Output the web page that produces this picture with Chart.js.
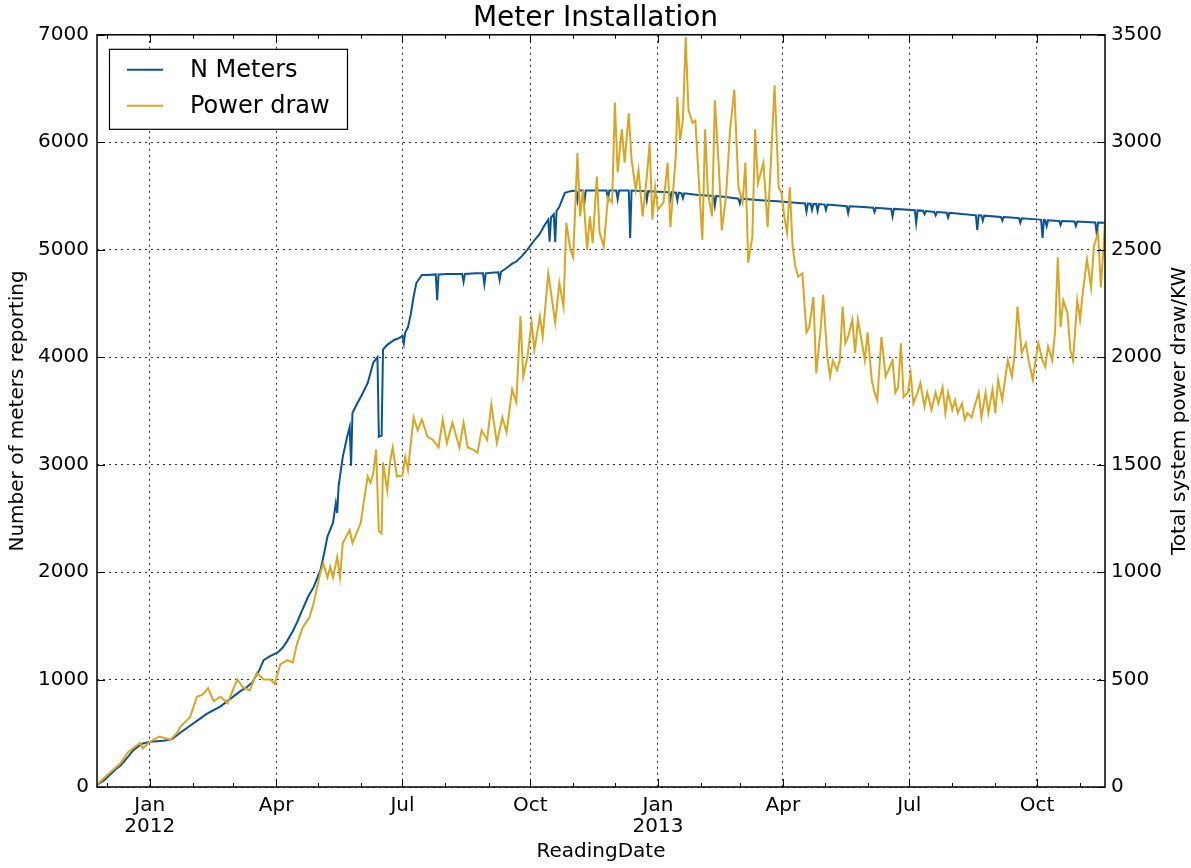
<!DOCTYPE html>
<html>
<head>
<meta charset="utf-8">
<title>Meter Installation</title>
<script src="https://cdn.jsdelivr.net/npm/chart.js@4.4.1/dist/chart.umd.min.js"></script>
<style>
  html, body { margin: 0; padding: 0; background: #fff; }
  canvas { display: block; }
</style>
</head>
<body>
<canvas id="chart" width="1191" height="868"></canvas>
<script>
// x values are days counted from 2012-01-01
const xMin = -38, xMax = 688;

// quarter ticks (labelled) and monthly minor ticks
const tickDays   = [0, 91, 182, 274, 366, 456, 547, 639];
const tickLabels = ['Jan\n2012', 'Apr', 'Jul', 'Oct', 'Jan\n2013', 'Apr', 'Jul', 'Oct'];
const minorDays  = [-31, 31, 60, 121, 152, 213, 244, 305, 335, 397, 425, 486, 517, 578, 609, 670];

// N Meters (left axis)
const meterDays = [
  -38, -33, -29, -25, -21, -16, -12, -8, -5, 0,
  5, 10, 16, 22, 29, 35, 41, 46, 51, 58,
  65, 70, 74, 79, 82, 87, 92, 96, 99, 103,
  106, 110, 114, 118, 123, 126, 128, 132, 134, 135,
  136, 139, 142, 144, 145, 146, 149, 152, 157, 161,
  164, 165, 167, 168, 171, 176, 180, 182, 183, 184,
  186, 188, 190, 192, 196, 200, 206, 207, 208, 214,
  222, 225, 226, 227, 235, 240, 241, 242, 246, 251,
  252, 253, 257, 261, 264, 268, 272, 276, 281, 284,
  287, 288, 289, 291, 292, 293, 295, 299, 303, 307,
  308, 309, 312, 313, 314, 320, 329, 330, 331, 336,
  337, 338, 345, 346, 347, 357, 358, 359, 366, 374,
  375, 376, 379, 380, 381, 383, 384, 385, 395, 406,
  407, 408, 415, 424, 425, 426, 440, 452, 463, 472,
  473, 474, 476, 477, 478, 480, 481, 482, 486, 487,
  488, 502, 503, 504, 511, 521, 522, 523, 534, 535,
  536, 549, 551, 552, 553, 557, 558, 559, 565, 566,
  567, 574, 575, 576, 585, 595, 596, 597, 599, 600,
  601, 613, 614, 615, 620, 626, 627, 628, 641, 642,
  643, 644, 645, 646, 647, 655, 656, 657, 666, 667,
  668, 681, 682, 683, 688
];
const meterVals = [
  20, 60, 110, 160, 200, 275, 340, 380, 405, 420,
  425, 430, 445, 505, 570, 625, 680, 715, 750, 820,
  890, 930, 975, 1090, 1180, 1220, 1250, 1300, 1360, 1450,
  1530, 1650, 1770, 1860, 2020, 2200, 2330, 2460, 2640, 2550,
  2800, 3070, 3250, 3350, 2990, 3480, 3560, 3630, 3760, 3950,
  4000, 3260, 3270, 4070, 4115, 4160, 4180, 4200, 4130, 4230,
  4280, 4400, 4560, 4690, 4765, 4765, 4770, 4530, 4770, 4775,
  4775, 4775, 4700, 4775, 4780, 4780, 4680, 4780, 4785, 4790,
  4720, 4795, 4830, 4870, 4890, 4940, 5000, 5070, 5150, 5220,
  5280, 5075, 5300, 5330, 5070, 5360, 5400, 5530, 5545, 5550,
  5460, 5550, 5550, 5430, 5550, 5550, 5550, 5470, 5550, 5550,
  5470, 5550, 5550, 5110, 5550, 5545, 5460, 5545, 5540, 5535,
  5470, 5535, 5530, 5460, 5530, 5525, 5480, 5525, 5510, 5500,
  5410, 5500, 5490, 5475, 5430, 5475, 5460, 5450, 5440, 5430,
  5355, 5430, 5428, 5370, 5425, 5425, 5360, 5425, 5420, 5370,
  5420, 5405, 5340, 5405, 5400, 5390, 5350, 5390, 5380, 5310,
  5380, 5370, 5368, 5250, 5366, 5362, 5330, 5360, 5352, 5320,
  5350, 5345, 5300, 5344, 5333, 5320, 5185, 5320, 5318, 5270,
  5317, 5305, 5270, 5304, 5300, 5294, 5250, 5293, 5280, 5278,
  5110, 5276, 5275, 5220, 5274, 5268, 5230, 5267, 5262, 5220,
  5262, 5253, 5155, 5253, 5250
];

// Power draw in KW (right axis)
const powerDays = [
  -38, -29, -21, -16, -12, -7, -5, 0, 7, 15,
  20, 22, 29, 34, 38, 42, 46, 51, 56, 63,
  67, 72, 77, 82, 87, 90, 94, 99, 103, 106,
  110, 115, 118, 120, 123, 125, 128, 130, 132, 135,
  137, 139, 144, 146, 152, 154, 157, 159, 161, 163,
  165, 167, 168, 171, 173, 175, 178, 182, 184, 186,
  190, 193, 196, 200, 204, 208, 211, 214, 218, 223,
  226, 229, 233, 236, 239, 243, 246, 250, 254, 257,
  261, 264, 267, 269, 272, 275, 277, 281, 283, 287,
  290, 292, 295, 298, 300, 303, 305, 308, 310, 312,
  315, 317, 319, 322, 324, 327, 330, 333, 335, 337,
  340, 342, 345, 347, 350, 352, 355, 358, 360, 362,
  364, 366, 370, 373, 375, 379, 380, 382, 384, 386,
  388, 391, 393, 395, 398, 400, 402, 405, 407, 410,
  412, 415, 418, 421, 424, 427, 429, 431, 434, 436,
  438, 442, 445, 448, 450, 453, 455, 457, 459, 461,
  463, 465, 467, 470, 473, 475, 478, 480, 483, 485,
  488, 490, 492, 495, 497, 499, 501, 503, 506, 508,
  510, 513, 515, 517, 520, 522, 524, 527, 530, 532,
  535, 537, 539, 541, 543, 546, 548, 550, 553, 555,
  558, 560, 563, 566, 568, 571, 573, 575, 578, 580,
  582, 585, 587, 589, 592, 594, 597, 599, 602, 604,
  607, 609, 611, 614, 616, 618, 621, 623, 625, 628,
  631, 633, 636, 638, 640, 643, 645, 647, 650, 652,
  654, 656, 658, 661, 663, 665, 668, 670, 672, 675,
  678, 680, 683, 685, 687, 688
];
const powerKW = [
  10, 65, 110, 160, 180, 205, 180, 210, 235, 220,
  255, 280, 325, 420, 430, 460, 400, 420, 390, 500,
  465, 450, 530, 500, 500, 480, 570, 590, 580, 665,
  740, 790, 855, 915, 1000, 1040, 975, 1025, 975, 1070,
  975, 1135, 1195, 1135, 1230, 1320, 1445, 1415, 1460, 1570,
  1190, 1180, 1510, 1380, 1510, 1580, 1445, 1450, 1535, 1475,
  1720, 1660, 1710, 1630, 1615, 1580, 1710, 1600, 1695, 1580,
  1695, 1580, 1570, 1555, 1660, 1615, 1780, 1600, 1720, 1650,
  1850, 1790, 2190, 1910, 2000, 2160, 2035, 2190, 2095, 2390,
  2255, 2160, 2345, 2235, 2625, 2500, 2465, 2950, 2655, 2780,
  2500, 2655, 2530, 2840, 2580, 2515, 2745, 2720, 3185, 2860,
  3060, 2905, 3135, 2920, 2780, 2870, 2655, 2840, 2995, 2640,
  2790, 2685, 2720, 2905, 2605, 2950, 3210, 3010, 3105, 3490,
  3150, 3090, 3100, 2870, 2545, 3060, 2765, 2655, 3195, 2870,
  2590, 2745, 3060, 3245, 2790, 2720, 2905, 2440, 2560, 3060,
  2810, 2905, 2605, 2995, 3265, 2790, 2765, 2655, 2580, 2790,
  2515, 2420, 2375, 2390, 2115, 2140, 2280, 1925, 2115, 2290,
  2000, 1910, 1985, 1940, 1985, 2235, 2065, 2095, 2175, 2020,
  2175, 2065, 1985, 2115, 1895, 1835, 1800, 2095, 1910, 1940,
  1985, 1835, 1860, 2065, 1815, 1835, 1925, 1785, 1835, 1880,
  1770, 1835, 1755, 1835, 1785, 1860, 1740, 1835, 1755, 1800,
  1740, 1785, 1710, 1740, 1720, 1770, 1835, 1720, 1835, 1740,
  1850, 1740, 1895, 1800, 1895, 1985, 1910, 2020, 2235, 2020,
  2065, 1985, 1895, 1985, 2065, 1985, 1955, 2050, 1985, 2115,
  2465, 2140, 2265, 2205, 2035, 1985, 2265, 2175, 2300, 2455,
  2325, 2515, 2580, 2325, 2515, 2640
];

const BLUE = '#0a5494';
const GOLD = '#daa520';
const FONT = "'DejaVu Sans', sans-serif";

const toXY = (xs, ys) => xs.map((d, i) => ({ x: d, y: ys[i] }));

// frame, inward tick marks, boxed legend and right-hand axis title
const axesDeco = {
  id: 'axesDeco',
  afterDraw(chart){
    const { ctx, chartArea: a, scales } = chart;
    const line = (x1, y1, x2, y2) => { ctx.beginPath(); ctx.moveTo(x1, y1); ctx.lineTo(x2, y2); ctx.stroke(); };
    ctx.save();
    ctx.strokeStyle = '#000';
    ctx.lineWidth = 1;
    tickDays.forEach(d => {
      const x = Math.round(scales.x.getPixelForValue(d)) + 0.5;
      line(x, a.bottom, x, a.bottom - 8);
      line(x, a.top, x, a.top + 8);
    });
    minorDays.forEach(d => {
      const x = Math.round(scales.x.getPixelForValue(d)) + 0.5;
      line(x, a.bottom, x, a.bottom - 4);
      line(x, a.top, x, a.top + 4);
    });
    scales.yL.ticks.forEach(t => {
      const y = Math.round(scales.yL.getPixelForValue(t.value)) + 0.5;
      line(a.left, y, a.left + 8, y);
    });
    scales.yR.ticks.forEach(t => {
      const y = Math.round(scales.yR.getPixelForValue(t.value)) + 0.5;
      line(a.right, y, a.right - 8, y);
    });
    ctx.lineWidth = 1.5;
    ctx.strokeRect(a.left, a.top, a.right - a.left, a.bottom - a.top);

    // legend
    const lx = a.left + 12, ly = a.top + 14, lw = 238, lh = 80;
    ctx.fillStyle = '#fff';
    ctx.fillRect(lx, ly, lw, lh);
    ctx.lineWidth = 1.2;
    ctx.strokeRect(lx + 0.5, ly + 0.5, lw, lh);
    ctx.font = '24px ' + FONT;
    ctx.textBaseline = 'middle';
    ctx.textAlign = 'left';
    [[chart.data.datasets[0], 21], [chart.data.datasets[1], 57]].forEach(([ds, dy]) => {
      ctx.strokeStyle = ds.borderColor;
      ctx.lineWidth = 2;
      line(lx + 18, ly + dy, lx + 54, ly + dy);
      ctx.fillStyle = '#000';
      ctx.fillText(ds.label, lx + 81, ly + dy + 1);
    });

    // right axis title, reading upwards like the left one
    ctx.translate(chart.width - 11, (a.top + a.bottom) / 2);
    ctx.rotate(-Math.PI / 2);
    ctx.font = '20px ' + FONT;
    ctx.textAlign = 'center';
    ctx.fillStyle = '#000';
    ctx.fillText('Total system power draw/KW', 0, 0);
    ctx.restore();
  }
};

const gridDots = { display: true, color: 'rgba(0,0,0,0.8)', lineWidth: 1, drawTicks: false };
const plain = v => String(v);

new Chart(document.getElementById('chart'), {
  type: 'line',
  data: {
    datasets: [
      { label: 'N Meters', data: toXY(meterDays, meterVals), yAxisID: 'yL',
        borderColor: BLUE, backgroundColor: BLUE, borderWidth: 2, pointRadius: 0, tension: 0, order: 1 },
      { label: 'Power draw', data: toXY(powerDays, powerKW), yAxisID: 'yR',
        borderColor: GOLD, backgroundColor: GOLD, borderWidth: 2, pointRadius: 0, tension: 0, order: 0 }
    ]
  },
  options: {
    responsive: false,
    animation: false,
    layout: { padding: 0 },
    plugins: {
      legend: { display: false },
      tooltip: { enabled: false },
      title: {
        display: true, text: 'Meter Installation', color: '#000',
        font: { family: FONT, size: 28, weight: 'normal', lineHeight: 1.1 },
        padding: { top: 3, bottom: 1 }
      }
    },
    scales: {
      x: {
        type: 'linear', min: xMin, max: xMax,
        afterBuildTicks: axis => { axis.ticks = tickDays.map(v => ({ value: v })); },
        afterFit: axis => { axis.height = 81; },
        grid: gridDots,
        border: { display: false, dash: [2, 4] },
        ticks: {
          autoSkip: false, maxRotation: 0, padding: 8, color: '#000',
          font: { family: FONT, size: 20, lineHeight: 1.05 },
          callback: (v, i) => tickLabels[i].split('\n')
        },
        title: { display: true, text: 'ReadingDate', color: '#000',
          font: { family: FONT, size: 20 }, padding: { top: 0, bottom: 4 } }
      },
      yL: {
        position: 'left', min: 0, max: 7000,
        afterFit: axis => { axis.width = 97; },
        grid: gridDots,
        border: { display: false, dash: [2, 4] },
        ticks: { stepSize: 1000, padding: 8, color: '#000', font: { family: FONT, size: 20 }, callback: plain },
        title: { display: true, text: 'Number of meters reporting', color: '#000',
          font: { family: FONT, size: 20 }, padding: { top: 6, bottom: 0 } }
      },
      yR: {
        position: 'right', min: 0, max: 3500,
        afterFit: axis => { axis.width = 86; },
        grid: { display: true, drawOnChartArea: false, drawTicks: false },
        border: { display: false },
        ticks: { stepSize: 500, padding: 6, color: '#000', font: { family: FONT, size: 20 }, callback: plain }
      }
    }
  },
  plugins: [axesDeco]
});
</script>
</body>
</html>
